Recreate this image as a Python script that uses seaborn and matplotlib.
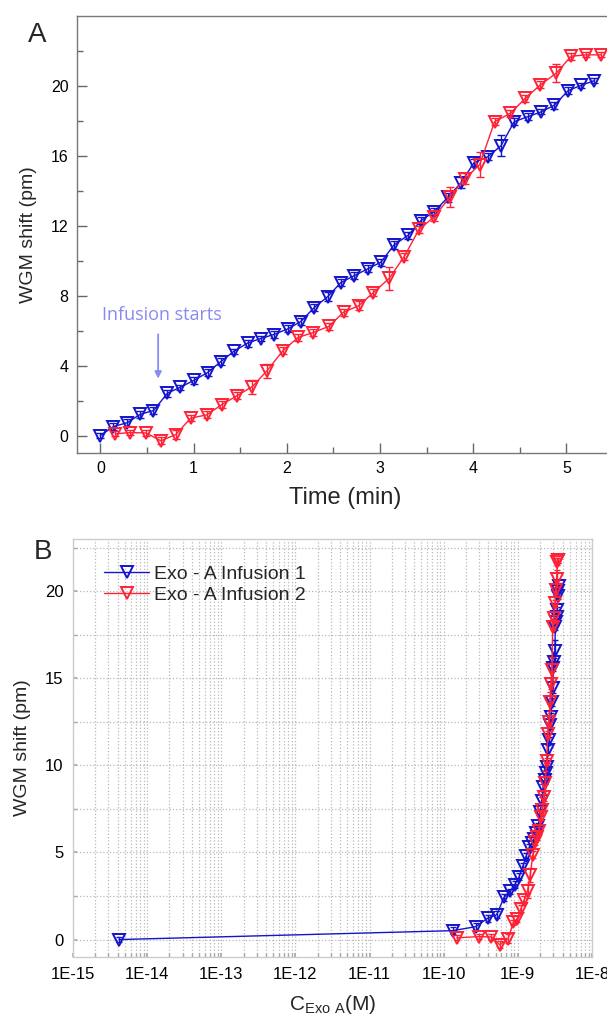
import numpy as np
import pandas as pd
import matplotlib
matplotlib.use("Agg")
import matplotlib.pyplot as plt
from matplotlib.ticker import MultipleLocator, LogLocator, FixedLocator, FixedFormatter, NullFormatter
import seaborn as sns

# Infusion 1 (blue)
time_1 = [0.00, 0.14, 0.29, 0.43, 0.57, 0.72, 0.86, 1.00, 1.15, 1.29, 1.43, 1.58, 1.72,
          1.86, 2.01, 2.15, 2.29, 2.44, 2.58, 2.72, 2.87, 3.01, 3.15, 3.30, 3.44, 3.58,
          3.73, 3.87, 4.01, 4.16, 4.30, 4.44, 4.59, 4.73, 4.87, 5.02, 5.16, 5.30]
shift_1 = [0.00, 0.51, 0.74, 1.22, 1.43, 2.42, 2.77, 3.15, 3.60, 4.22, 4.81, 5.29, 5.55,
           5.78, 6.10, 6.52, 7.30, 7.95, 8.75, 9.14, 9.54, 9.92, 10.90, 11.45, 12.30, 12.80,
           13.64, 14.47, 15.62, 15.96, 16.59, 17.96, 18.25, 18.52, 18.90, 19.74, 20.04, 20.31]
err_1 = [0.15, 0.20, 0.20, 0.20, 0.20, 0.20, 0.15, 0.20, 0.20, 0.20, 0.15, 0.20, 0.15,
         0.20, 0.20, 0.20, 0.20, 0.25, 0.20, 0.20, 0.20, 0.20, 0.25, 0.20, 0.20, 0.20,
         0.25, 0.30, 0.20, 0.20, 0.60, 0.20, 0.20, 0.15, 0.20, 0.20, 0.15, 0.15]
conc_1 = [4.2e-15, 1.32e-10, 2.7e-10, 3.9e-10, 5.2e-10, 6.5e-10, 7.8e-10, 9.1e-10, 1.04e-9,
          1.17e-9, 1.30e-9, 1.42e-9, 1.54e-9, 1.66e-9, 1.77e-9, 1.88e-9, 1.99e-9, 2.09e-9,
          2.19e-9, 2.29e-9, 2.38e-9, 2.47e-9, 2.56e-9, 2.64e-9, 2.72e-9, 2.80e-9, 2.88e-9,
          2.95e-9, 3.02e-9, 3.09e-9, 3.15e-9, 3.21e-9, 3.27e-9, 3.33e-9, 3.39e-9, 3.44e-9,
          3.50e-9, 3.58e-9]

# Infusion 2 (red)
time_2 = [0.16, 0.32, 0.49, 0.65, 0.81, 0.97, 1.14, 1.30, 1.47, 1.63, 1.79, 1.96, 2.12,
          2.28, 2.45, 2.61, 2.77, 2.93, 3.10, 3.26, 3.42, 3.58, 3.75, 3.91, 4.07, 4.23,
          4.40, 4.56, 4.72, 4.89, 5.05, 5.21, 5.37]
shift_2 = [0.10, 0.17, 0.15, -0.30, 0.06, 1.00, 1.18, 1.76, 2.29, 2.80, 3.72, 4.86, 5.61,
           5.89, 6.24, 7.06, 7.42, 8.18, 9.00, 10.24, 11.80, 12.50, 13.65, 14.70, 15.50,
           17.96, 18.44, 19.30, 20.06, 20.73, 21.70, 21.78, 21.78]
err_2 = [0.15, 0.15, 0.15, 0.20, 0.25, 0.15, 0.20, 0.20, 0.20, 0.40, 0.40, 0.20, 0.20,
         0.20, 0.20, 0.20, 0.25, 0.20, 0.65, 0.20, 0.20, 0.20, 0.55, 0.30, 0.70, 0.20,
         0.20, 0.20, 0.20, 0.50, 0.20, 0.15, 0.15]
conc_2 = [1.5e-10, 2.97e-10, 4.4e-10, 5.7e-10, 7.4e-10, 8.7e-10, 9.8e-10, 1.10e-9, 1.22e-9,
          1.35e-9, 1.47e-9, 1.59e-9, 1.71e-9, 1.82e-9, 1.93e-9, 2.04e-9, 2.14e-9, 2.24e-9,
          2.34e-9, 2.44e-9, 2.53e-9, 2.62e-9, 2.71e-9, 2.79e-9, 2.87e-9, 2.95e-9, 3.03e-9,
          3.15e-9, 3.24e-9, 3.33e-9, 3.42e-9, 3.48e-9, 3.52e-9]

labels = ["Exo - A Infusion 1", "Exo - A Infusion 2"]
a_yticks = [0, 4, 8, 12, 16, 20]
a_yminor = [2, 6, 10, 14, 18, 22]
decades = [1e-15, 1e-14, 1e-13, 1e-12, 1e-11, 1e-10, 1e-9, 1e-8]
decade_labels = ["1E-15", "1E-14", "1E-13", "1E-12", "1E-11", "1E-10", "1E-9", "1E-8"]

blue = "#1414cc"
red = "#ff2236"

df1 = pd.DataFrame({"time": time_1, "shift": shift_1, "err": err_1, "conc": conc_1})
df2 = pd.DataFrame({"time": time_2, "shift": shift_2, "err": err_2, "conc": conc_2})

sns.set_theme(style="ticks")
plt.rcParams["font.family"] = ["Liberation Sans", "DejaVu Sans"]
plt.rcParams["mathtext.fontset"] = "custom"
plt.rcParams["mathtext.rm"] = "Liberation Sans"

fig = plt.figure(figsize=(6.07, 10.16), dpi=100)
axA = fig.add_axes([0.1269, 0.5541, 0.883, 0.4301])
axB = fig.add_axes([0.1203, 0.0581, 0.855, 0.4114])

mk = dict(marker="v", markersize=8, markerfacecolor="none", markeredgewidth=1.4,
          linewidth=1.0, errorbar=None, sort=False)

# ---- Panel A: shift vs time
for df, col, lab in [(df1, blue, labels[0]), (df2, red, labels[1])]:
    axA.errorbar(df["time"], df["shift"], yerr=df["err"], fmt="none", ecolor=col,
                 elinewidth=1.0, capsize=3, capthick=1.0)
    sns.lineplot(data=df, x="time", y="shift", ax=axA, color=col, markeredgecolor=col,
                 label=lab, legend=False, **mk)

axA.set_xlim(-0.25, 5.5)
axA.set_ylim(-1, 24)
axA.xaxis.set_major_locator(MultipleLocator(1))
axA.xaxis.set_minor_locator(MultipleLocator(0.5))
axA.yaxis.set_major_locator(FixedLocator(a_yticks))
axA.yaxis.set_minor_locator(FixedLocator(a_yminor))
axA.tick_params(which="both", direction="in", colors="#666666", labelcolor="black",
                labelsize=11.5, pad=6)
axA.tick_params(which="major", length=7, width=1)
axA.tick_params(which="minor", length=4, width=1)
for s in axA.spines.values():
    s.set_color("#777777")
    s.set_linewidth(1.0)
axA.set_xlabel("Time (min)", fontsize=17, labelpad=8)
axA.set_ylabel("WGM shift (pm)", fontsize=14, labelpad=10)

axA.annotate("", xy=(0.62, 3.1), xytext=(0.62, 5.95),
             arrowprops=dict(arrowstyle="-|>", color="#8a8af2", lw=1.3, mutation_scale=10))
axA.text(0.665, 6.9, "Infusion starts", color="#8a8af2", fontsize=13,
         family=["Open Sans", "DejaVu Sans"], ha="center", va="center")

# ---- Panel B: shift vs concentration
axB.set_xscale("log")
for df, col, lab in [(df1, blue, labels[0]), (df2, red, labels[1])]:
    axB.errorbar(df["conc"], df["shift"], yerr=df["err"], fmt="none", ecolor=col,
                 elinewidth=1.0, capsize=2.5, capthick=1.0)
    sns.lineplot(data=df, x="conc", y="shift", ax=axB, color=col, markeredgecolor=col,
                 label=lab, **mk)

axB.set_xlim(1e-15, 1e-8)
axB.set_ylim(-1, 23)
axB.xaxis.set_major_locator(FixedLocator(decades))
axB.xaxis.set_major_formatter(FixedFormatter(decade_labels))
axB.xaxis.set_minor_locator(LogLocator(base=10, subs=np.arange(2, 10), numticks=20))
axB.xaxis.set_minor_formatter(NullFormatter())
axB.yaxis.set_major_locator(MultipleLocator(5))
axB.yaxis.set_minor_locator(MultipleLocator(2.5))
axB.grid(which="both", linestyle=":", color="#b8b8b8", linewidth=0.9)
axB.tick_params(which="both", direction="in", colors="#aaaaaa", labelcolor="black",
                labelsize=12, pad=7, length=3)
for s in axB.spines.values():
    s.set_color("#cccccc")
    s.set_linewidth(1.0)
axB.set_xlabel(r"C$_{\mathregular{Exo\ A}}$(M)", fontsize=15, labelpad=8)
axB.set_ylabel("WGM shift (pm)", fontsize=14, labelpad=10)
axB.legend(loc="upper left", bbox_to_anchor=(0.045, 0.955), frameon=False, fontsize=14,
           handlelength=2.3, handletextpad=0.25, labelspacing=0.15, borderaxespad=0)

fig.text(0.061, 0.966, "A", fontsize=20, ha="center", va="center")
fig.text(0.071, 0.457, "B", fontsize=20, ha="center", va="center")

fig.savefig("out.png", dpi=100)
